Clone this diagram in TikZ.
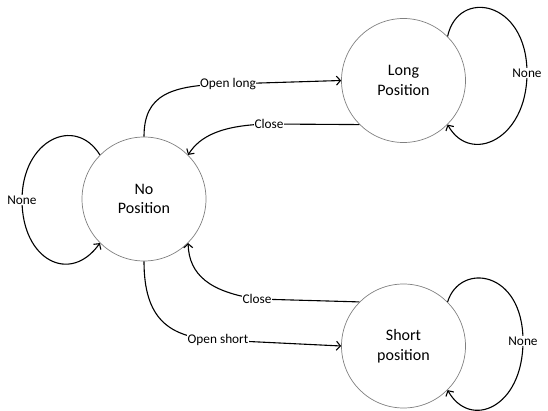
\documentclass[tikz,border=0pt]{standalone}
\usepackage{fontspec}
\setmainfont{Carlito}
\usetikzlibrary{arrows.meta}

\begin{document}
\begin{tikzpicture}[x=1pt, y=-1pt,
  state/.style={circle, draw=gray, line width=0.7pt, minimum size=124pt, inner sep=0pt, align=center, font=\fontsize{16}{19.5}\selectfont},
  lbl/.style={fill=white, inner sep=0.6pt, font=\fontsize{13.3}{16}\selectfont},
  edge/.style={line width=1.1pt, -{Straight Barb[length=4pt,width=9pt]}}]
  \useasboundingbox (0,0) rectangle (548,411);
  \node[state] (np) at (144, 199) {No\\Position};
  \node[state] (lp) at (403.5, 80.5) {Long\\Position};
  \node[state] (sp) at (403.5, 346) {Short\\position};
  % transitions
  \draw[edge] (np.north) .. controls (144,95) and (170,85) .. (228,84) node[lbl] {Open long} -- (lp.west);
  \draw[edge] (lp.225) -- (269,124) node[lbl] {Close} .. controls (222,125) and (200,136) .. (np.45);
  \draw[edge] (sp.135) -- (257,299) node[lbl] {Close} .. controls (210,292) and (189,275) .. (np.315);
  \draw[edge] (np.south) .. controls (144,318) and (168,338) .. (218,340) node[lbl] {Open short} -- (sp.west);
  % self loops
  \draw[edge] (np.135) .. controls (75,115) and (22,140) .. (22,200) node[lbl] {None} .. controls (22,260) and (70,285) .. (np.225);
  \draw[edge] (lp.45) .. controls (458,-12) and (527,0) .. (527,73) node[lbl] {None} .. controls (527,140) and (470,165) .. (lp.315);
  \draw[edge] (sp.45) .. controls (460,262) and (523,270) .. (523,341) node[lbl] {None} .. controls (523,408) and (470,430) .. (sp.315);
\end{tikzpicture}
\end{document}
